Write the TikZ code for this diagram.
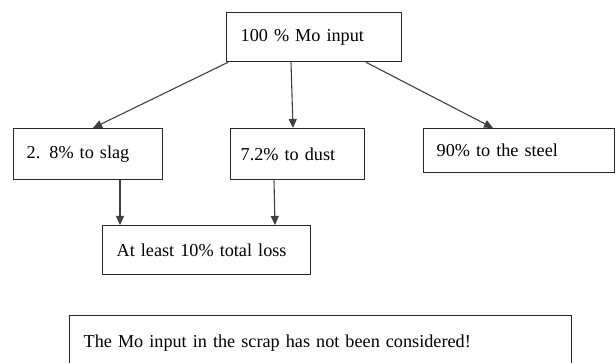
\documentclass[tikz,border=0pt]{standalone}
\usepackage{fontspec}
\setmainfont{Liberation Serif}
\usetikzlibrary{arrows.meta}

\begin{document}
\begin{tikzpicture}[x=1pt, y=-1pt, ->, >={Triangle[length=9pt, width=8pt]},
    box/.style = {draw=black!85, line width=1.3pt, rectangle, anchor=north west,
                  align=left, inner xsep=13pt, inner ysep=0pt,
                  font=\fontsize{18.2}{22}\selectfont},
    edge/.style = {draw=black!75, line width=1.1pt}]
    \useasboundingbox (0,0) rectangle (616,363);
    % Nodes

    \node[box, inner xsep=14pt, text width=147pt, minimum height=49pt] (input) at (226,12) {100 \% Mo input};

    \node[box, text width=123pt, minimum height=51pt] (slag) at (13,128) {2. 8\% to slag};
    \node[box, inner xsep=10pt, text width=114pt, minimum height=51pt] (dust) at (230,128) {7.2\% to dust};
    \node[box, text width=165pt, minimum height=44pt] (steel) at (423,128) {90\% to the steel};

    \node[box, inner xsep=14pt, text width=180pt, minimum height=49pt] (loss) at (102,225) {At least 10\% total loss};

    \node[box, inner xsep=14pt, text width=474pt, minimum height=55pt] (note) at (69,315) {The Mo input in the scrap has not been considered!};

    % Edges

    \draw[edge] ([xshift=2pt]input.south west) -- ([xshift=80pt]slag.north west);
    \draw[edge] ([xshift=65pt]input.south west) -- ([xshift=63pt]dust.north west);
    \draw[edge] ([xshift=140pt]input.south west) -- ([xshift=70pt]steel.north west);

    \draw[edge] ([xshift=107pt]slag.south west) -- ([xshift=18pt]loss.north west);
    \draw[edge] ([xshift=44pt]dust.south west) -- ([xshift=173pt]loss.north west);

\end{tikzpicture}
\end{document}
